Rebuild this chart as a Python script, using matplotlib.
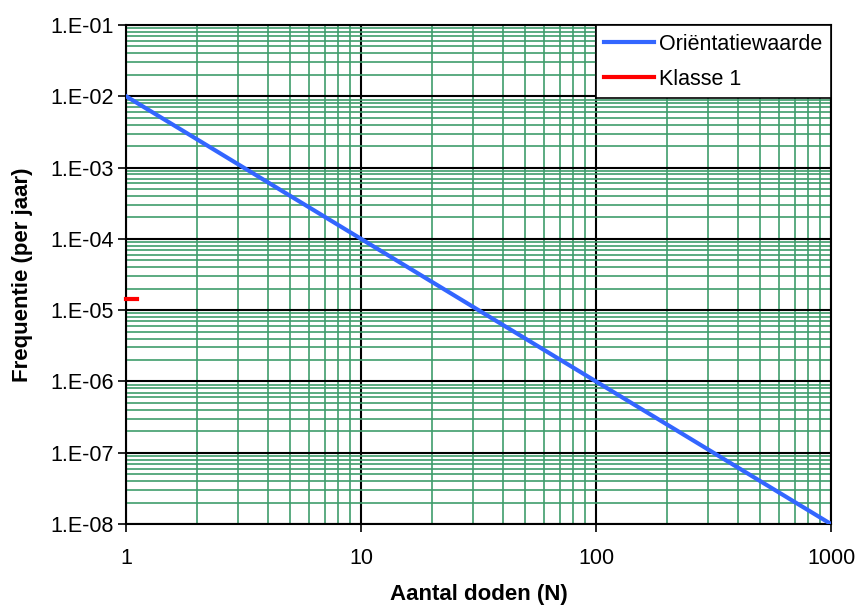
import numpy as np
import matplotlib
matplotlib.use("Agg")
import matplotlib.pyplot as plt
from matplotlib.ticker import LogLocator, FuncFormatter, NullFormatter

plt.rcParams['font.family'] = ['Liberation Sans', 'DejaVu Sans']

# orientatiewaarde: 1e-2 / N^2
n_orient = [1, 1000]
f_orient = [1e-2, 1e-8]

# klasse 1
n_klasse1 = [1, 1.11]
f_klasse1 = [1.44e-5, 1.44e-5]

x_ticks = [1, 10, 100, 1000]
y_ticks = [1e-8, 1e-7, 1e-6, 1e-5, 1e-4, 1e-3, 1e-2, 1e-1]

fig = plt.figure(figsize=(8.55, 6.08), dpi=100)
ax = fig.add_axes([0.1474, 0.138, 0.8246, 0.821])

ax.set_xscale('log')
ax.set_yscale('log')
ax.set_xlim(1, 1000)
ax.set_ylim(1e-8, 1e-1)

green = '#3f9d6c'
ax.xaxis.set_minor_locator(LogLocator(base=10, subs=np.arange(2, 10)))
ax.yaxis.set_minor_locator(LogLocator(base=10, subs=np.arange(2, 10)))
ax.xaxis.set_minor_formatter(NullFormatter())
ax.yaxis.set_minor_formatter(NullFormatter())
ax.grid(True, which='minor', color=green, lw=1.2, zorder=0)
ax.grid(True, which='major', color='black', lw=1.5, zorder=1)
ax.set_axisbelow(True)

ax.set_xticks(x_ticks)
ax.set_yticks(y_ticks)
ax.xaxis.set_major_formatter(FuncFormatter(lambda v, p: f"{v:.0f}"))
ax.yaxis.set_major_formatter(FuncFormatter(lambda v, p: "1.E-%02d" % round(-np.log10(v))))
ax.tick_params(which='major', direction='out', length=6, width=1.2, labelsize=15.5)
ax.tick_params(axis='y', pad=3)
ax.tick_params(axis='x', pad=11)
ax.tick_params(which='minor', length=0)

for s in ax.spines.values():
    s.set_linewidth(1.5)
    s.set_color('black')

ax.plot(n_orient, f_orient, color='#3366ff', lw=3, label='Oriëntatiewaarde', zorder=3)
ax.plot(n_klasse1, f_klasse1, color='#ff0000', lw=3, label='Klasse 1', zorder=3, clip_on=False)

ax.set_xlabel('Aantal doden (N)', fontsize=16, fontweight='bold', labelpad=11)
ax.set_ylabel('Frequentie (per jaar)', fontsize=16, fontweight='bold', labelpad=12)

leg = ax.legend(loc='upper right', bbox_to_anchor=(1, 1), borderaxespad=0,
                fancybox=False, framealpha=1, edgecolor='black', fontsize=15.5,
                handlelength=2.3, handletextpad=0.25, labelspacing=0.65,
                borderpad=0.4)
leg.get_frame().set_linewidth(1.2)
leg.set_zorder(5)

fig.savefig('out.png', dpi=100, facecolor='white')
